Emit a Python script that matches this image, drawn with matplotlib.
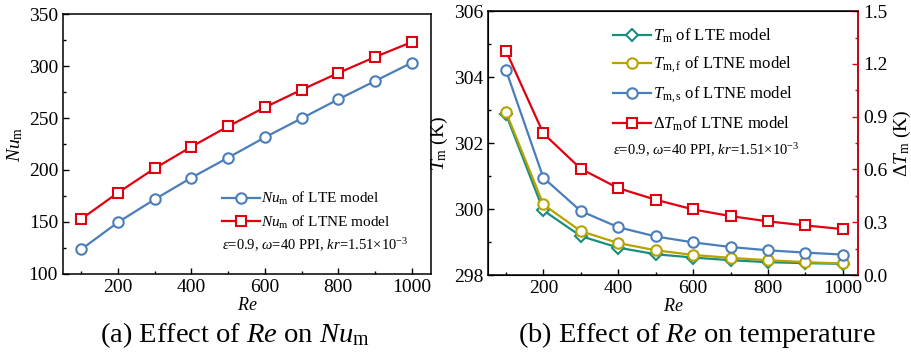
import matplotlib
matplotlib.use("Agg")
import matplotlib.pyplot as plt
from matplotlib.ticker import MultipleLocator

plt.rcParams["font.family"] = ["Liberation Serif", "DejaVu Serif"]
plt.rcParams["mathtext.fontset"] = "custom"
plt.rcParams["mathtext.rm"] = "Liberation Serif"
plt.rcParams["mathtext.it"] = "Liberation Serif:italic"
plt.rcParams["mathtext.bf"] = "Liberation Serif:bold"

# data
re = [100, 200, 300, 400, 500, 600, 700, 800, 900, 1000]
nu_lte = [123.7, 149.7, 171.8, 192.6, 211.9, 231.4, 249.7, 268.0, 285.6, 303.2]
nu_ltne = [152.9, 178.2, 201.6, 222.4, 242.0, 260.3, 277.2, 293.3, 308.7, 323.1]
tm_lte = [302.88, 299.96, 299.18, 298.83, 298.63, 298.53, 298.45, 298.39, 298.36, 298.34]
tm_f = [302.95, 300.14, 299.33, 298.97, 298.75, 298.61, 298.52, 298.45, 298.39, 298.35]
tm_s = [304.22, 300.95, 299.94, 299.45, 299.17, 298.99, 298.85, 298.75, 298.68, 298.62]
dtm = [1.275, 0.805, 0.604, 0.494, 0.428, 0.373, 0.335, 0.305, 0.282, 0.261]

BLUE = "#4A7EBB"
RED = "#E0000F"
TEAL = "#168F80"
OLIVE = "#B8A200"

fig = plt.figure(figsize=(9.12, 3.6), dpi=100)

def style(ax):
    ax.tick_params(which="both", direction="in", labelsize=14, top=False, right=False)
    ax.tick_params(which="major", length=4, width=1)
    ax.tick_params(which="minor", length=2.5, width=1)
    for s in ax.spines.values():
        s.set_linewidth(1.1)

mk = dict(markerfacecolor="white", markersize=7.5, markeredgewidth=1.5, linewidth=1.6)

# (a)
ax1 = fig.add_axes([0.069, 0.239, 0.4035, 0.722])
ax1.plot(re, nu_lte, "-o", color=BLUE, label=r"$\mathit{Nu}_\mathrm{m}$ of LTE model", **mk)
ax1.plot(re, nu_ltne, "-s", color=RED, label=r"$\mathit{Nu}_\mathrm{m}$ of LTNE model", **mk)
ax1.set_xlim(50, 1052)
ax1.set_ylim(100, 350)
ax1.xaxis.set_major_locator(MultipleLocator(200))
ax1.xaxis.set_minor_locator(MultipleLocator(100))
ax1.yaxis.set_major_locator(MultipleLocator(50))
ax1.yaxis.set_minor_locator(MultipleLocator(25))
style(ax1)
ax1.set_xlabel(r"$\mathit{Re}$", fontsize=13, labelpad=1)
ax1.set_ylabel(r"$\mathit{Nu}_\mathrm{m}$", fontsize=14, labelpad=3)
ax1.legend(loc="upper left", bbox_to_anchor=(0.415, 0.345), frameon=False, fontsize=11,
           handlelength=2.5, handletextpad=0.1, labelspacing=0.4, borderaxespad=0)
ax1.text(0.433, 0.09, r"$\varepsilon$=0.9, $\omega$=40 PPI, $\mathit{kr}$=1.51×10$^{-3}$",
         transform=ax1.transAxes, fontsize=10.5)

# (b)
ax2 = fig.add_axes([0.535, 0.236, 0.4057, 0.733])
ax2.plot(re, tm_lte, "-D", color=TEAL, label=r"$T_\mathrm{m}$ of LTE model",
         markerfacecolor="white", markersize=6.5, markeredgewidth=1.5, linewidth=1.6)
ax2.plot(re, tm_f, "-o", color=OLIVE, label=r"$T_\mathrm{m,f}$ of LTNE model", **mk)
ax2.plot(re, tm_s, "-o", color=BLUE, label=r"$T_\mathrm{m,s}$ of LTNE model", **mk)
ax2.set_xlim(52, 1040)
ax2.set_ylim(298, 306)
ax2.xaxis.set_major_locator(MultipleLocator(200))
ax2.xaxis.set_minor_locator(MultipleLocator(100))
ax2.yaxis.set_major_locator(MultipleLocator(2))
ax2.yaxis.set_minor_locator(MultipleLocator(1))
style(ax2)
ax2.set_xlabel(r"$\mathit{Re}$", fontsize=13, labelpad=1)
ax2.set_ylabel(r"$T_\mathrm{m}$ (K)", fontsize=14, labelpad=3)

ax3 = ax2.twinx()
ax3.plot(re, dtm, "-s", color=RED, label=r"$\Delta T_\mathrm{m}$of LTNE model", **mk)
ax3.set_ylim(0, 1.5)
ax3.yaxis.set_major_locator(MultipleLocator(0.3))
ax3.yaxis.set_minor_locator(MultipleLocator(0.15))
ax3.yaxis.set_major_formatter(matplotlib.ticker.FormatStrFormatter("%.1f"))
ax3.tick_params(which="both", direction="in", labelsize=14, colors=RED, labelcolor="black")
ax3.tick_params(which="major", length=4, width=1)
ax3.tick_params(which="minor", length=2.5, width=1)
ax3.spines["right"].set_color(RED)
ax3.spines["right"].set_linewidth(1.1)
ax3.set_ylabel(r"$\Delta T_\mathrm{m}$ (K)", fontsize=14, labelpad=3)

h1, l1 = ax2.get_legend_handles_labels()
h2, l2 = ax3.get_legend_handles_labels()
ax3.legend(h1 + h2, l1 + l2, loc="upper left", bbox_to_anchor=(0.32, 0.965), frameon=False,
           fontsize=12, handlelength=2.3, handletextpad=0.1, labelspacing=0.55, borderaxespad=0)
ax3.text(0.338, 0.455, r"$\varepsilon$=0.9, $\omega$=40 PPI, $\mathit{kr}$=1.51×10$^{-3}$",
         transform=ax3.transAxes, fontsize=10.5)

fig.text(0.257, 0.07, r"(a) Effect of $\mathit{Re}$ on $\mathit{Nu}_\mathrm{m}$", ha="center",
         va="center", fontsize=20.5)
fig.text(0.764, 0.07, r"(b) Effect of $\mathit{Re}$ on temperature", ha="center",
         va="center", fontsize=20.5)

fig.savefig("out.png", dpi=100)
